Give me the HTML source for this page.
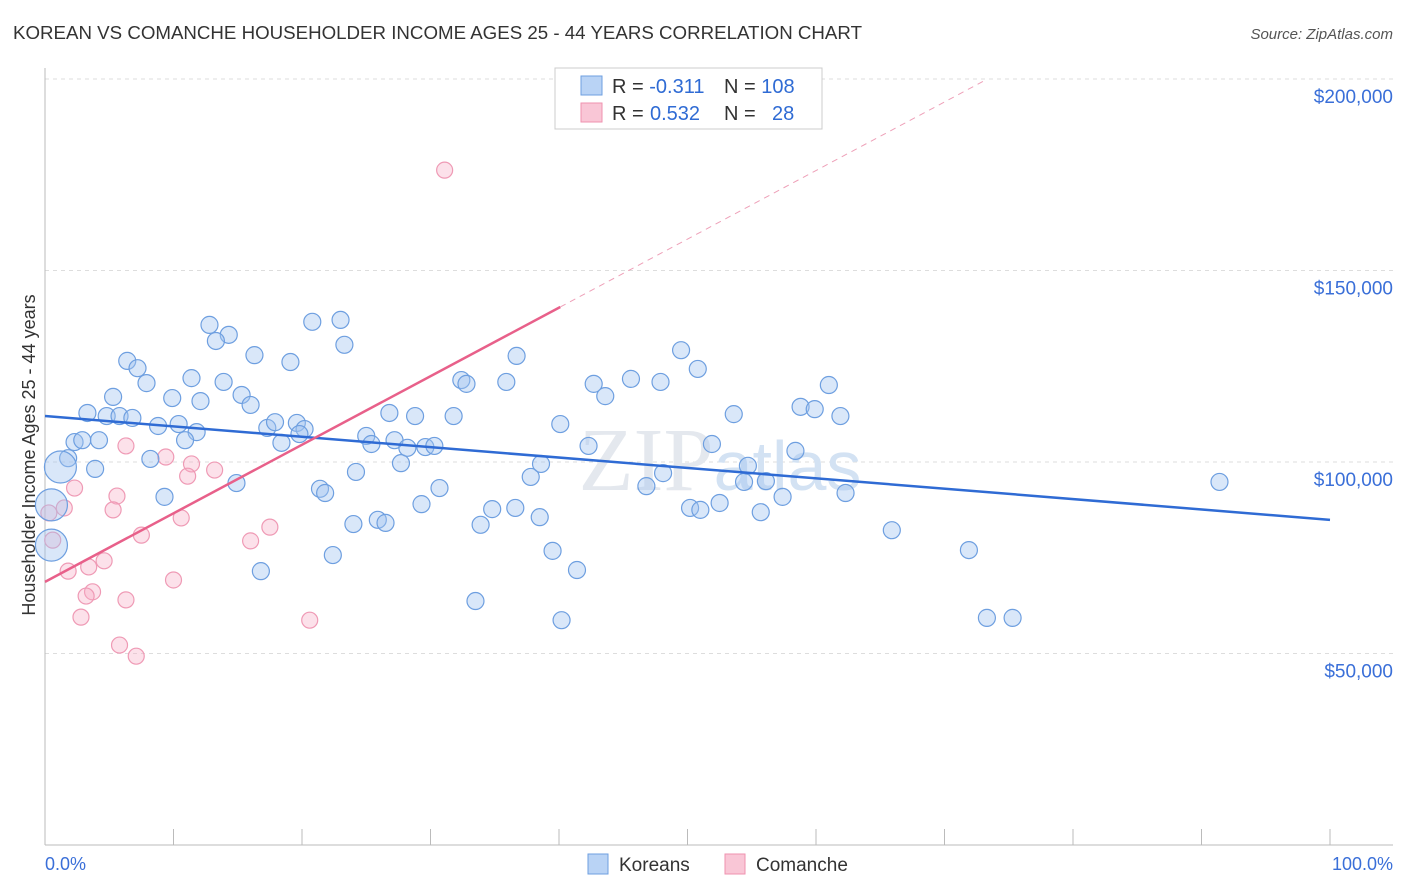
<!DOCTYPE html>
<html><head><meta charset="utf-8"><style>
body{margin:0;background:#fff;font-family:"Liberation Sans",sans-serif}
svg{display:block}
</style></head><body>
<svg id="chart" width="1406" height="892" font-family="Liberation Sans, sans-serif">
<text x="13" y="39" font-size="18" fill="#333" textLength="849" lengthAdjust="spacingAndGlyphs">KOREAN VS COMANCHE HOUSEHOLDER INCOME AGES 25 - 44 YEARS CORRELATION CHART</text>
<text x="1393" y="39" font-size="15" fill="#555" text-anchor="end" font-style="italic">Source: ZipAtlas.com</text>
<text x="35" y="455" font-size="18" fill="#333" text-anchor="middle" transform="rotate(-90 35 455)">Householder Income Ages 25 - 44 years</text>
<g id="grid"></g>
<text x="720" y="490" font-size="90" fill="#e4e8ee" text-anchor="middle" font-family="Liberation Serif, serif">ZIP<tspan font-family="Liberation Sans, sans-serif" font-size="70" fill="#d3e2f3">atlas</tspan></text>
<g id="points"></g>
<g id="lines"></g>
<g>
<rect x="555" y="68" width="267" height="61" fill="#fff" stroke="#ccc"/>
<rect x="581" y="76" width="21" height="19" fill="#b9d3f5" stroke="#6e9fe0"/>
<rect x="581" y="103" width="21" height="19" fill="#f9c6d6" stroke="#ef92af"/>
<text x="612" y="93" font-size="20" fill="#333">R = <tspan fill="#2f6bd4">-0.311</tspan><tspan x="724">N = </tspan><tspan fill="#2f6bd4">108</tspan></text>
<text x="612" y="120" font-size="20" fill="#333">R = <tspan fill="#2f6bd4" x="650">0.532</tspan><tspan x="724">N = </tspan><tspan fill="#2f6bd4" x="772">28</tspan></text>
</g>
<g>
<rect x="588" y="854" width="20" height="20" fill="#b9d3f5" stroke="#6e9fe0"/>
<text x="619" y="871" font-size="19" fill="#333">Koreans</text>
<rect x="725" y="854" width="20" height="20" fill="#f9c6d6" stroke="#ef92af"/>
<text x="756" y="871" font-size="19" fill="#333">Comanche</text>
</g>
<text x="45" y="870" font-size="18" fill="#3a6fd8">0.0%</text>
<text x="1393" y="870" font-size="18" fill="#3a6fd8" text-anchor="end">100.0%</text>
</svg>
<script>
const yTicks=[50000,100000,150000,200000];
const yTickLabels=["$50,000","$100,000","$150,000","$200,000"];
const xTicks=[0,10,20,30,40,50,60,70,80,90,100];
const korX=[12.8,20.8,23.0,14.3,13.3,23.3,6.4,7.2,16.3,19.1,7.9,11.4,13.9,9.9,12.1,15.3,16.0,5.3,3.3,4.8,5.8,6.8,8.8,10.4,11.8,10.9,2.3,2.9,4.2,1.8,3.9,8.2,1.2,0.5,0.5,9.3,14.9,17.3,17.9,19.6,20.2,19.8,18.4,16.8,21.4,21.8,22.4,24.0,24.2,25.0,25.4,25.9,26.5,26.8,27.2,27.7,28.2,28.8,29.3,29.6,30.3,30.7,31.8,32.4,32.8,33.5,33.9,34.8,35.9,36.6,36.7,37.8,38.5,38.6,39.5,40.1,40.2,41.4,42.3,42.7,43.6,45.6,46.8,47.9,48.1,49.5,50.2,50.8,51.0,51.9,52.5,53.6,54.4,54.7,55.7,56.1,57.4,58.4,58.8,59.9,61.0,61.9,62.3,65.9,71.9,73.3,75.3,91.4];
const korY=[135.8,136.6,137.1,133.2,131.6,130.6,126.4,124.5,127.9,126.1,120.6,121.9,120.9,116.7,115.9,117.5,114.9,117.0,112.8,112.0,112.0,111.5,109.4,109.9,107.8,105.7,105.2,105.7,105.7,101.0,98.2,100.8,98.7,88.8,78.3,90.9,94.5,108.9,110.4,110.2,108.6,107.3,105.0,71.5,93.0,91.9,75.7,83.8,97.4,106.8,104.7,84.9,84.1,112.8,105.7,99.7,103.7,112.0,89.0,103.9,104.2,93.2,112.0,121.4,120.4,63.7,83.6,87.7,120.9,88.0,127.7,96.1,85.6,99.5,76.8,109.9,58.7,71.8,104.2,120.4,117.2,121.7,93.7,120.9,97.1,129.2,88.0,124.3,87.5,104.7,89.3,112.5,94.8,99.0,86.9,95.0,90.9,102.9,114.4,113.8,120.1,112.0,91.9,82.2,77.0,59.3,59.3,94.8];
const korBig=[32,33,34];
const comX=[31.1,6.3,9.4,11.4,11.1,13.2,2.3,5.6,5.3,10.6,1.5,0.3,0.6,7.5,17.5,16.0,4.6,1.8,3.4,10.0,3.7,3.2,6.3,2.8,20.6,5.8,7.1];
const comY=[176.2,104.2,101.3,99.5,96.3,97.9,93.2,91.1,87.5,85.4,88.0,86.7,79.6,80.9,83.0,79.4,74.2,71.5,72.6,69.2,66.1,65.0,64.0,59.5,58.7,52.2,49.3];
const korTrend=[112.0,84.9];
const comTrend=[68.7,1.79];
const X0=45,X1=1330,Y0=845,PXK=0.003830*1000;
const sx=v=>X0+v*(X1-X0)/100;
const sy=k=>Y0-k*PXK;
const NS="http://www.w3.org/2000/svg";
function mk(t,a,p){const e=document.createElementNS(NS,t);for(const k in a)e.setAttribute(k,a[k]);p.appendChild(e);return e;}
const grid=document.getElementById('grid');
yTicks.forEach((t,i)=>{const y=sy(t/1000);
const l=mk('line',{x1:45,x2:1393,y1:y,y2:y,stroke:'#ddd','stroke-dasharray':'4,4'},grid);


const tx=mk('text',{x:1393,y:y+24,'font-size':19,fill:'#3a6fd8','text-anchor':'end'},grid);tx.textContent=yTickLabels[i];

});
const ax=mk('line',{x1:45,x2:1393,y1:845,y2:845,stroke:'#bbb'},grid);


const ay=mk('line',{x1:45,x2:45,y1:68,y2:845,stroke:'#bbb'},grid);


xTicks.forEach(t=>{const x=sx(t);const l=mk('line',{x1:x,x2:x,y1:829,y2:845,stroke:'#bbb'},grid);

});
const pts=document.getElementById('points');
comX.forEach((v,i)=>{const c=mk('circle',{cx:sx(v),cy:sy(comY[i]),r:8,fill:'rgba(246,170,195,0.35)',stroke:'#ef9ab5','stroke-width':1.2},pts);

});
korX.forEach((v,i)=>{const big=korBig.includes(i);const c=mk('circle',{cx:sx(v),cy:sy(korY[i]),r:big?16:8.5,fill:'rgba(160,195,240,0.4)',stroke:'#6e9fe0','stroke-width':1.2},pts);

});
const ln=document.getElementById('lines');
const kl=mk('line',{x1:sx(0),y1:sy(korTrend[0]),x2:sx(100),y2:sy(korTrend[1]),stroke:'#2f6bd4','stroke-width':2.5},ln);


const cy=v=>comTrend[0]+comTrend[1]*v;
const cl=mk('line',{x1:sx(0),y1:sy(cy(0)),x2:sx(40.1),y2:sy(cy(40.1)),stroke:'#e8608a','stroke-width':2.5},ln);


const cd=mk('line',{x1:sx(40.1),y1:sy(cy(40.1)),x2:sx(73.3),y2:sy(cy(73.3)),stroke:'#eea0b8','stroke-width':1,'stroke-dasharray':'6,5'},ln);


</script>
</body></html>
